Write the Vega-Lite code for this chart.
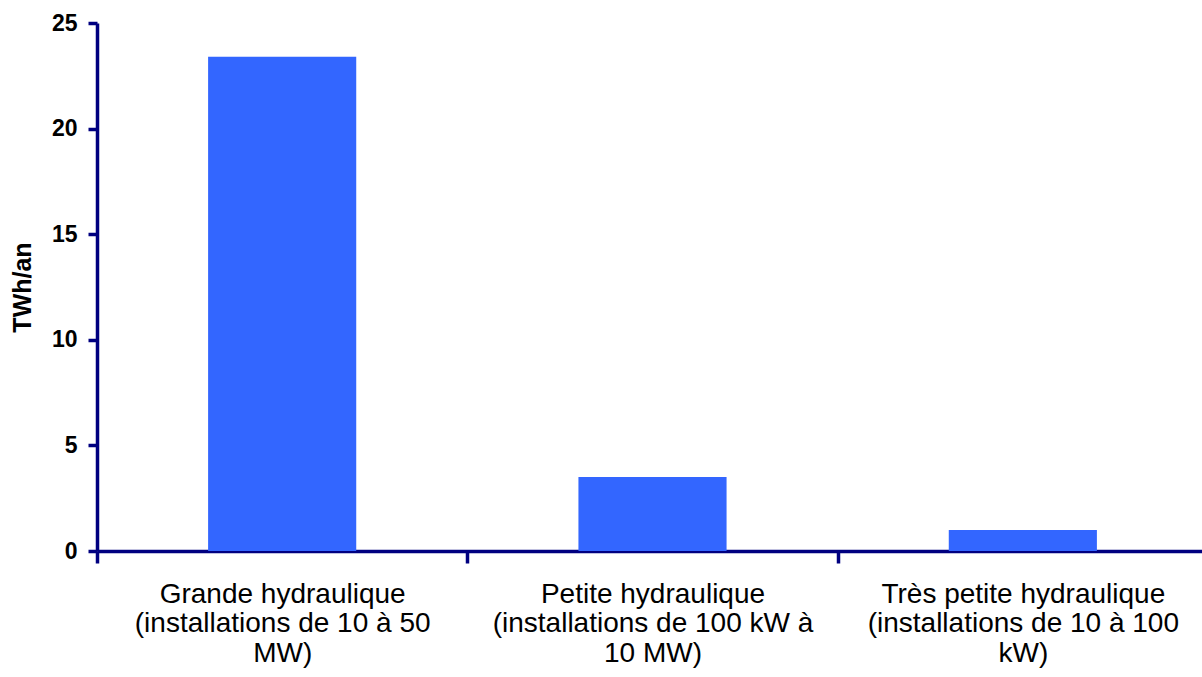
{
  "$schema": "https://vega.github.io/schema/vega-lite/v6.json",
  "autosize": "none",
  "width": 1105,
  "height": 528,
  "padding": {"left": 97, "top": 23, "right": 0, "bottom": 126},
  "background": "white",
  "data": {
    "values": [
      {"categorie": "Grande hydraulique|(installations de 10 à 50|MW)", "production": 23.4},
      {"categorie": "Petite hydraulique|(installations de 100 kW à|10 MW)", "production": 3.5},
      {"categorie": "Très petite hydraulique|(installations de 10 à 100|kW)", "production": 1.0}
    ]
  },
  "mark": {"type": "bar", "color": "#3366FF", "width": {"band": 0.4}},
  "encoding": {
    "x": {
      "field": "categorie",
      "type": "nominal",
      "sort": null,
      "title": null,
      "scale": {"paddingInner": 0, "paddingOuter": 0, "range": [0, 1111]},
      "axis": {
        "labelExpr": "split(datum.label, '|')",
        "labelAngle": 0,
        "labelFont": "Liberation Sans",
        "labelFontSize": 28,
        "labelLineHeight": 29.5,
        "labelColor": "black",
        "labelPadding": 17,
        "labelLimit": 0,
        "tickBand": "extent",
        "tickSize": 12,
        "tickWidth": 3.5,
        "tickColor": "#000080",
        "domainColor": "#000080",
        "domainWidth": 3.5,
        "grid": false
      }
    },
    "y": {
      "field": "production",
      "type": "quantitative",
      "title": "TWh/an",
      "scale": {"domain": [0, 25], "nice": false},
      "axis": {
        "values": [0, 5, 10, 15, 20, 25],
        "labelFont": "Liberation Sans",
        "labelFontSize": 23,
        "labelFontWeight": "bold",
        "labelColor": "black",
        "labelPadding": 11,
        "tickSize": 9,
        "tickWidth": 3.5,
        "tickColor": "#000080",
        "domainColor": "#000080",
        "domainWidth": 3.5,
        "grid": false,
        "titleFont": "Liberation Sans",
        "titleFontSize": 25,
        "titleFontWeight": "bold",
        "titleColor": "black",
        "titlePadding": 16
      }
    }
  },
  "config": {"view": {"stroke": null}}
}
